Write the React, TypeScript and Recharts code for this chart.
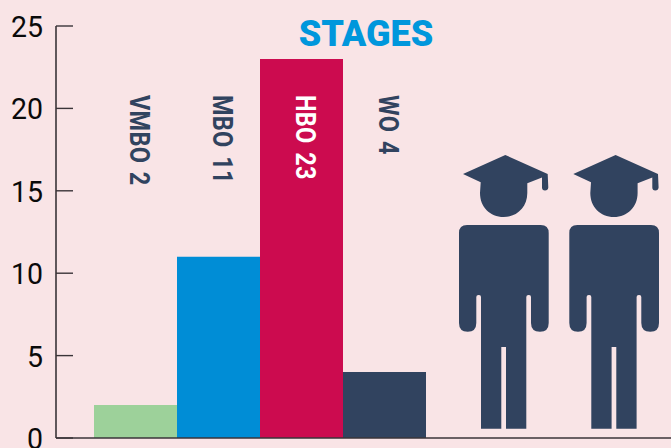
import { BarChart, Bar, XAxis, YAxis, Cell, LabelList } from "recharts";

const categories = ["VMBO", "MBO", "HBO", "WO"];
const students = [2, 11, 23, 4];
const barColors = ["#9dd19a", "#008dd6", "#cc0b4f", "#31435f"];
const labelColors = ["#31435f", "#31435f", "#ffffff", "#31435f"];
const yTicks = [0, 5, 10, 15, 20, 25];

const data = categories.map((name, i) => ({ name, value: students[i] }));

const PINK = "#f9e4e6";
const NAVY = "#31435f";
const AXIS = "#3a3438";

function YTick({ x, y, payload }: any) {
    // recharts hands over x minus its own tick size and margin, the axis sits 8px further right
    const axisX = x + 8;
    return (
        <g>
            <line x1={axisX} y1={y} x2={axisX + 17} y2={y} stroke={AXIS} strokeWidth={1.4} />
            <text
                transform={`translate(${axisX - 13} ${y + 11}) scale(0.95 1)`}
                textAnchor="end"
                fontFamily="Roboto"
                fontSize={30}
                fill="#0a0a0a"
            >
                {payload.value}
            </text>
        </g>
    );
}

function BarLabel({ x, width, index }: any) {
    const cx = x + width / 2 + 4.5 - 10;
    return (
        <text
            transform={`translate(${cx} 95) rotate(90) scale(0.87 1)`}
            fontFamily="Roboto"
            fontWeight={700}
            fontSize={27}
            wordSpacing={3}
            letterSpacing={0.3}
            fill={labelColors[index]}
        >
            {`${categories[index]} ${students[index]}`}
        </text>
    );
}

// graduate figure, drawn at its left-hand position and shifted for the second one
function Graduate({ dx = 0 }: { dx?: number }) {
    return (
        <g transform={`translate(${dx} 0)`} fill={NAVY}>
            <path d="M505.3 155 L547.7 174 L548.3 187.5 Q548 190.5 545 190.5 Q542 190.5 542 187.5 L542 177.5 L527.3 183.3 L527.3 193 C527.3 207 517 217 503.7 217 C490 217 480 207 480 193 L480.7 182.3 L463 174 Z" />
            <path d="M467 225 L540.7 225 Q548.7 225 548.7 233 L548.7 323 Q548.7 331.7 540 331.7 Q531 331.7 531 323 L531 297 Q531 295 529 295 L528.5 295 Q526.3 295 526.3 297 L526.3 428.7 L506 428.7 L506 347 L501.3 347 L501.3 428.7 L481 428.7 L481 297 Q481 295 479 295 L478.5 295 Q476.3 295 476.3 297 L476.3 323 Q476.3 331.7 467.7 331.7 Q459 331.7 459 323 L459 233 Q459 225 467 225 Z" />
        </g>
    );
}

export default function App() {
    return (
        <div style={{ position: "fixed", left: 0, top: 0, width: 671, height: 448, overflow: "hidden", background: PINK }}>
            <BarChart
                width={671}
                height={448}
                data={data}
                margin={{ top: 26, right: 0, bottom: 9, left: 0 }}
                barCategoryGap={0}
            >
                <XAxis
                    dataKey="name"
                    tick={false}
                    tickLine={false}
                    height={1}
                    axisLine={{ stroke: AXIS, strokeWidth: 1.6 }}
                    padding={{ left: 38, right: 245 }}
                />
                <YAxis
                    width={56}
                    domain={[0, 25]}
                    ticks={yTicks}
                    tickLine={false}
                    axisLine={{ stroke: AXIS, strokeWidth: 1.6 }}
                    tick={<YTick />}
                    interval={0}
                />
                <Bar dataKey="value" isAnimationActive={false}>
                    {data.map((d, i) => (
                        <Cell key={d.name} fill={barColors[i]} />
                    ))}
                    <LabelList dataKey="value" content={<BarLabel />} />
                </Bar>
                <text
                    x={366}
                    y={46}
                    textAnchor="middle"
                    fontFamily="Roboto"
                    fontWeight={900}
                    fontSize={36}
                    fill="#0097dc"
                >
                    STAGES
                </text>
                <Graduate />
                <Graduate dx={110.3} />
            </BarChart>
        </div>
    );
}
